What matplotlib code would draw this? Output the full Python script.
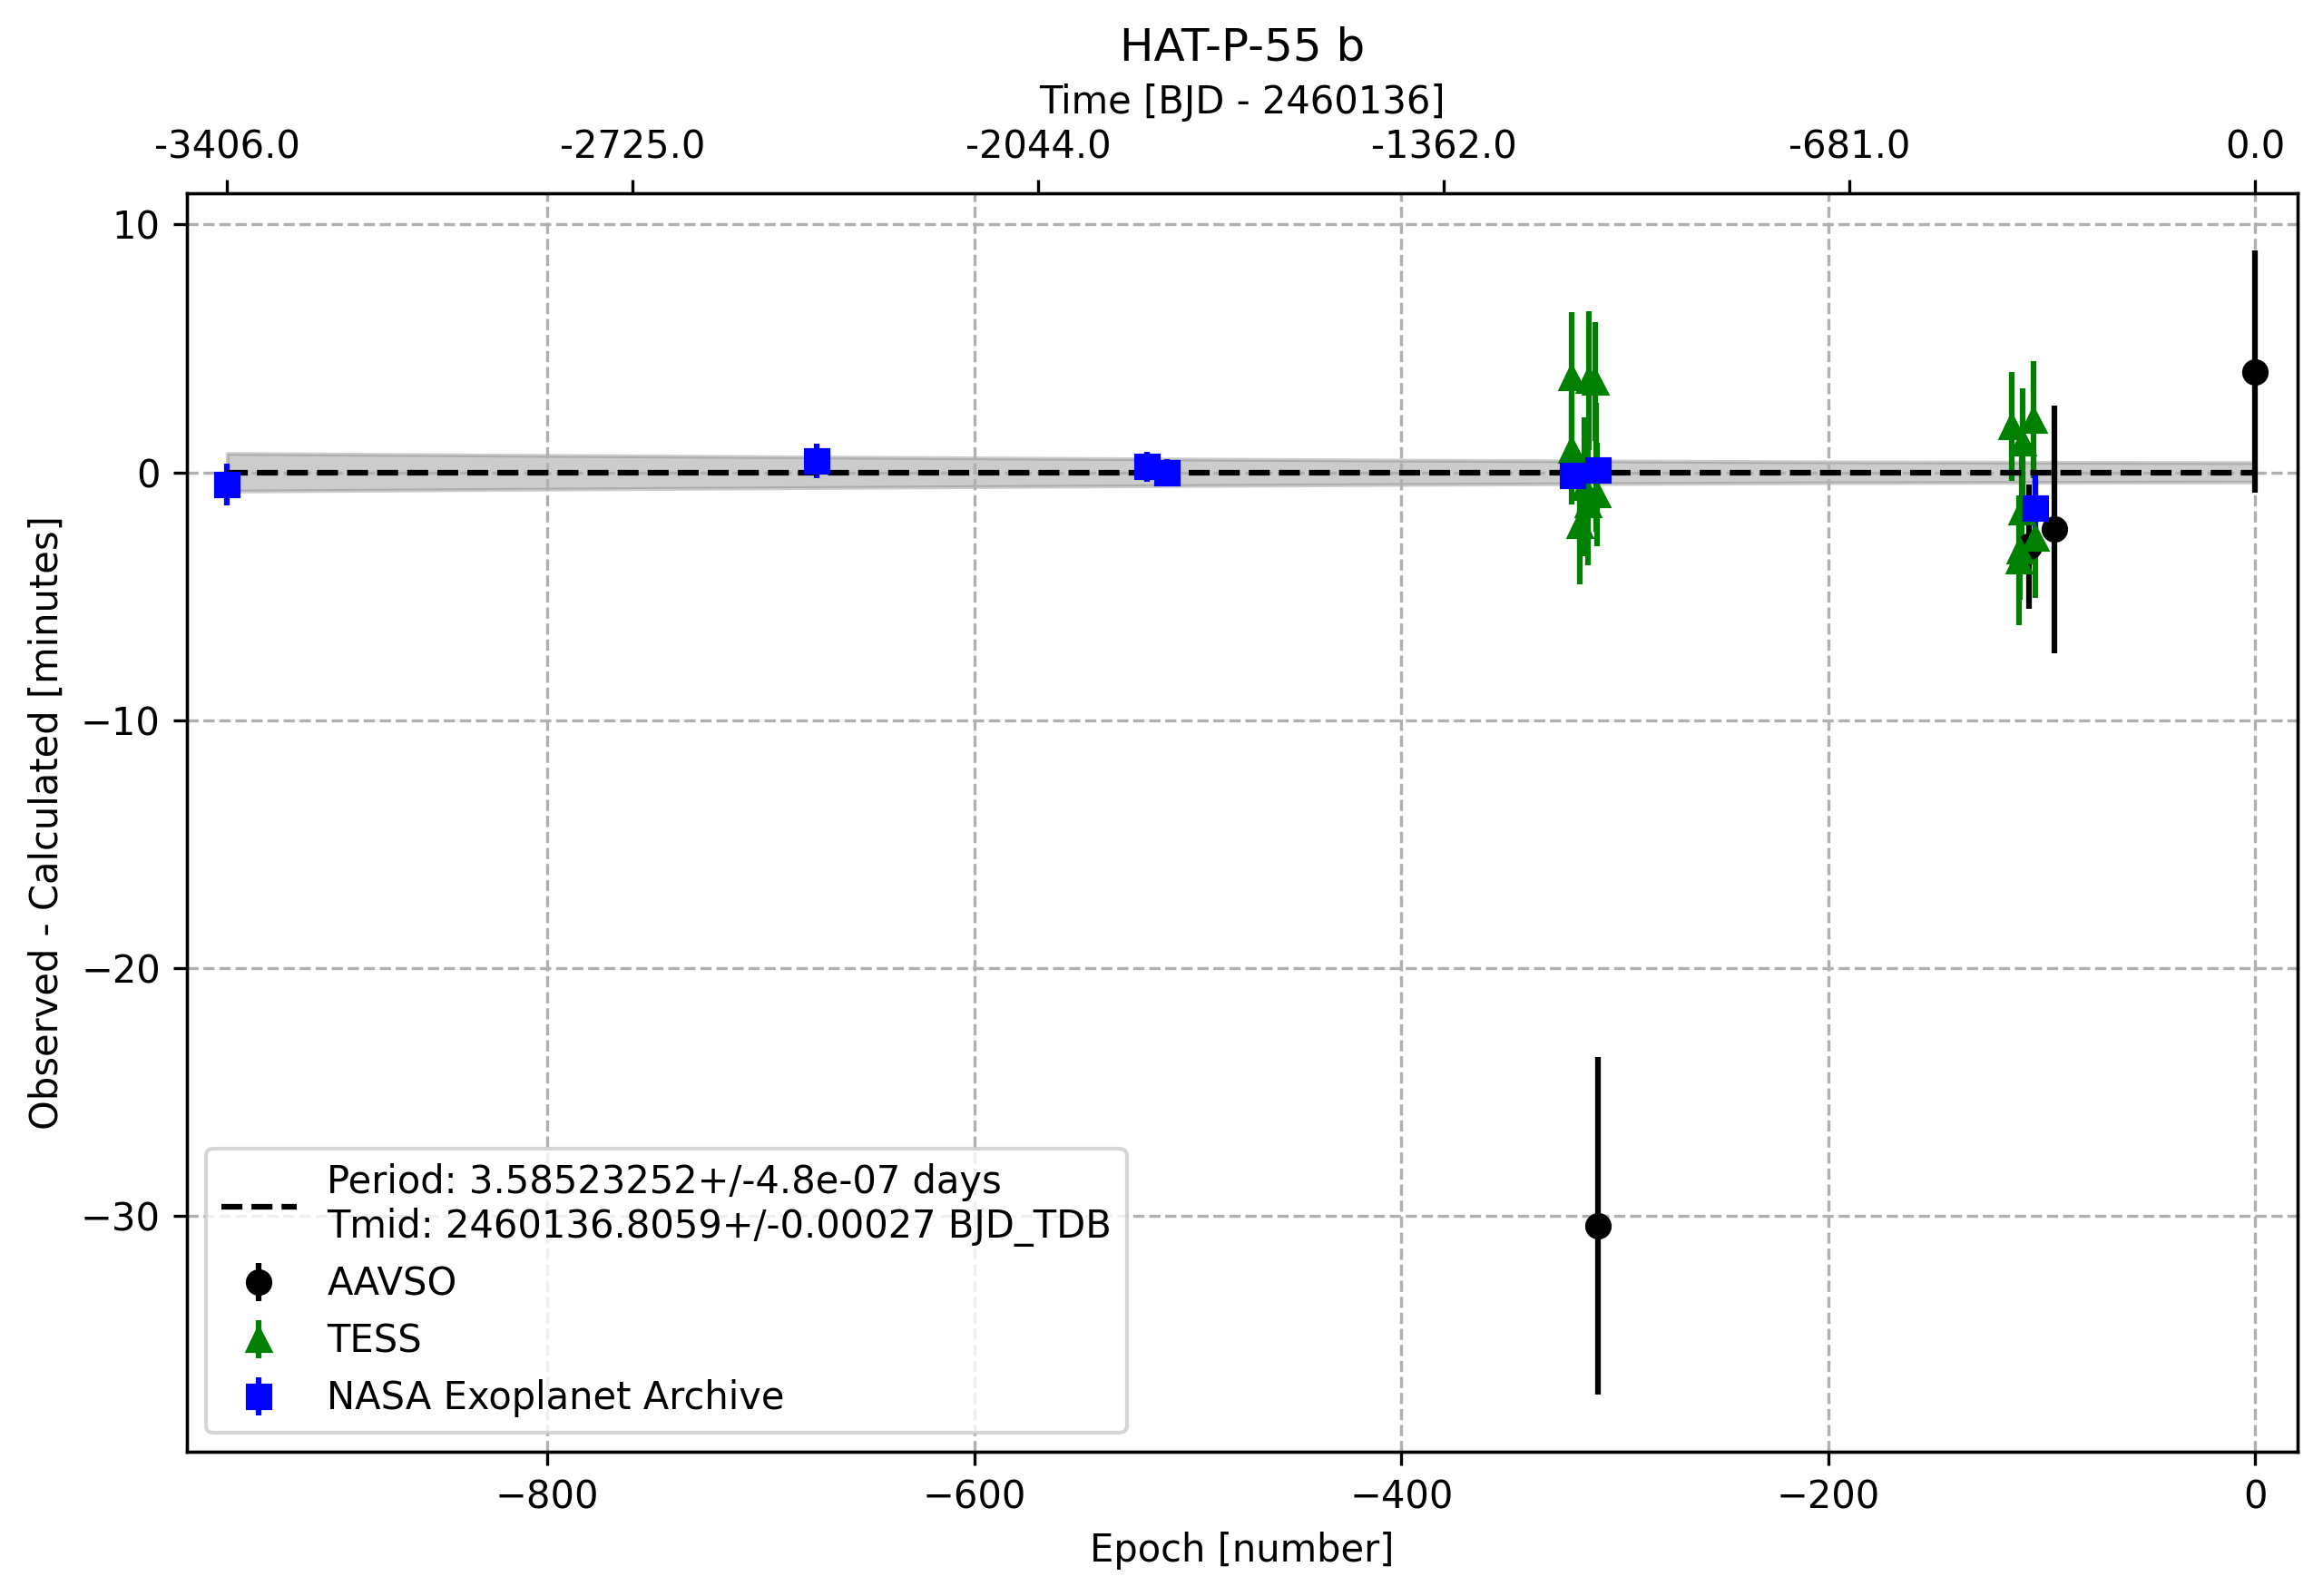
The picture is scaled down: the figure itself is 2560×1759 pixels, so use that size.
import numpy as np
import matplotlib
matplotlib.use('Agg')
import matplotlib.pyplot as plt

# AAVSO transits: epoch, O-C [min], error [min]
aavso_epoch = [-308, -106, -94, 0]
aavso_oc = [-30.4, -3.0, -2.3, 4.06]
aavso_err = [6.8, 2.5, 5.0, 4.9]

# TESS transits
tess_epoch = [-320.3, -320.3, -312.0, -309.0, -314.3, -308.6, -308.2, -312.5, -316.4,
              -114.1, -104.0, -108.9, -109.6, -102.9, -110.2, -110.8]
tess_oc = [3.81, 0.89, 3.70, 3.65, -0.60, 0.20, -0.90, -1.30, -2.13,
           1.84, 2.11, 1.20, -1.60, -2.67, -3.15, -3.55]
tess_err = [2.66, 2.19, 2.80, 2.40, 2.80, 2.60, 2.10, 2.45, 2.40,
            2.20, 2.36, 2.20, 2.30, 2.40, 2.00, 2.60]

# NASA Exoplanet Archive transits
nasa_epoch = [-950, -674, -519, -510, -320, -308, -103]
nasa_oc = [-0.48, 0.46, 0.23, -0.02, -0.13, 0.08, -1.45]
nasa_err = [0.84, 0.71, 0.60, 0.55, 0.40, 0.35, 1.35]

# ephemeris uncertainty band (half width in minutes)
band_epoch = [-950, -800, -600, -400, -200, 0]
band_half = [0.76, 0.68, 0.58, 0.49, 0.42, 0.39]

# top axis labels
top_tick_epoch = [-950, -760, -570, -380, -190, 0]
top_tick_labels = ['-3406.0', '-2725.0', '-2044.0', '-1362.0', '-681.0', '0.0']

fit_label = 'Period: 3.58523252+/-4.8e-07 days\nTmid: 2460136.8059+/-0.00027 BJD_TDB'

fig = plt.figure(figsize=(2560/300, 1759/300), dpi=300)
ax = fig.add_axes([0.0805, 0.0904, 0.9084, 0.7887])

be = np.array(band_epoch)
bh = np.array(band_half)
ax.fill_between(be, -bh, bh, color='gray', alpha=0.4)

ax.errorbar(aavso_epoch, aavso_oc, yerr=aavso_err, fmt='ko', label='AAVSO')
ax.errorbar(tess_epoch, tess_oc, yerr=tess_err, fmt='g^', label='TESS')
ax.errorbar(nasa_epoch, nasa_oc, yerr=nasa_err, fmt='bs', label='NASA Exoplanet Archive')
ax.plot([band_epoch[0], band_epoch[-1]], [0, 0], 'k--', label=fit_label)

ax.set_xlim(-968.8, 19.6)
ax.set_xlabel('Epoch [number]')
ax.set_ylabel('Observed - Calculated [minutes]')
ax.grid(True, ls='--')
ax.legend(loc='lower left')

ax2 = ax.twiny()
ax2.set_xlim(ax.get_xlim())
ax2.set_xticks(top_tick_epoch)
ax2.set_xticklabels(top_tick_labels)
ax2.set_xlabel('Time [BJD - 2460136]')

ax.set_title('HAT-P-55 b')

fig.savefig('out.png', dpi=300)
